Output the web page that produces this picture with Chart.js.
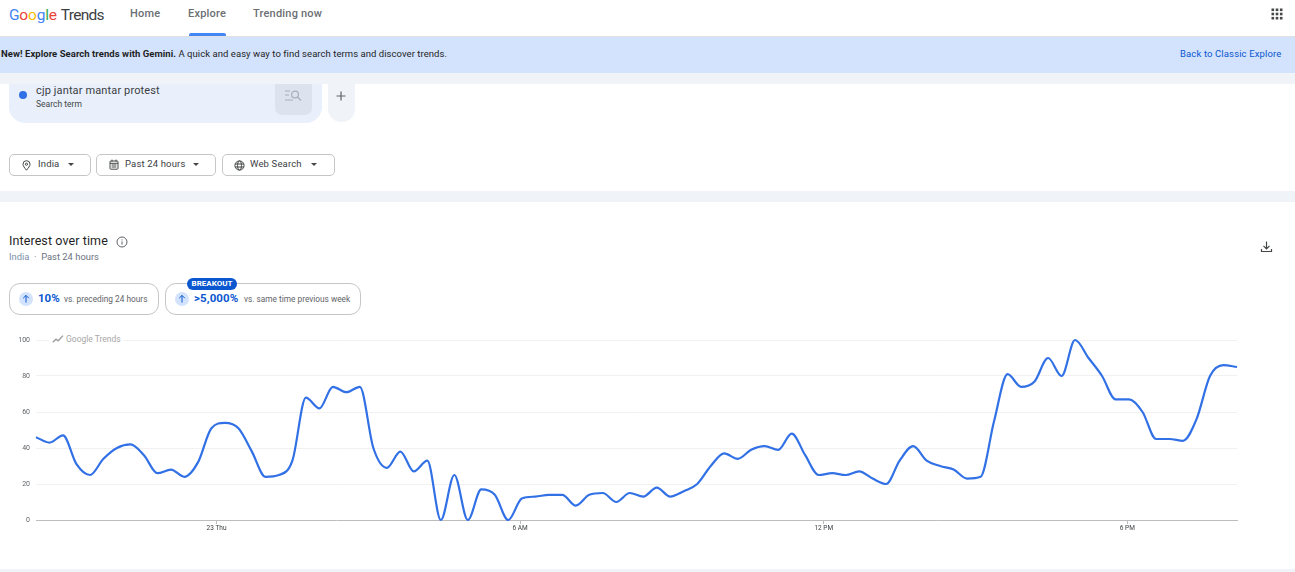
<!DOCTYPE html>
<html>
<head>
<meta charset="utf-8">
<title>Google Trends</title>
<script src="https://cdn.jsdelivr.net/npm/chart.js@4"></script>
<style>
html, body { margin: 0; padding: 0; background: #fff; overflow: hidden; }
body { width: 1295px; height: 572px; position: relative; font-family: Roboto, Arial, sans-serif; color: #1f1f1f; }
.abs { position: absolute; white-space: nowrap; }
.nav { top: 6px; font-size: 11px; line-height: 15px; color: #6b6f73; font-weight: 500; letter-spacing: .2px; }
.pill { top: 154px; height: 20px; border: 1px solid #c4c7c5; border-radius: 5px; box-sizing: content-box; background: #fff; }
.pilltext { top: 157px; font-size: 9.5px; line-height: 14px; color: #3c4043; letter-spacing: .15px; }
.caret { width: 0; height: 0; border-left: 3.5px solid transparent; border-right: 3.5px solid transparent; border-top: 3.5px solid #444746; }
.cmp { top: 283px; height: 30px; border: 1px solid #c4c7c5; border-radius: 11px; background: #fff; }
.arrow { width: 14px; height: 14px; top: 292px; border-radius: 50%; background: #d3e3fd; }
.big { top: 291px; font-size: 11.5px; line-height: 15px; font-weight: 700; color: #0b57d0; }
.vs { top: 293px; font-size: 8.3px; line-height: 12px; color: #5f6368; }
#chartWrap { position: absolute; left: 0; top: 320px; width: 1295px; height: 232px; }
</style>
</head>
<body>
<!-- top nav -->
<div class="abs" style="left:9px;top:5px;font-size:15.5px;line-height:20px;letter-spacing:-.2px"><span style="color:#4285f4">G</span><span style="color:#ea4335">o</span><span style="color:#fbbc04">o</span><span style="color:#4285f4">g</span><span style="color:#34a853">l</span><span style="color:#ea4335">e</span><span style="color:#3c4043;margin-left:4px;letter-spacing:-.7px">Trends</span></div>
<div class="abs nav" style="left:130px">Home</div>
<div class="abs nav" style="left:188px">Explore</div>
<div class="abs nav" style="left:253px">Trending now</div>
<div class="abs" style="left:189px;top:33px;width:37px;height:3px;background:#4285f4;border-radius:2px 2px 0 0"></div>
<svg class="abs" style="left:1271px;top:8px" width="12" height="12" viewBox="0 0 12 12" fill="#444746">
  <rect x="0.5" y="0.5" width="2.6" height="2.6"/><rect x="4.7" y="0.5" width="2.6" height="2.6"/><rect x="8.9" y="0.5" width="2.6" height="2.6"/>
  <rect x="0.5" y="4.7" width="2.6" height="2.6"/><rect x="4.7" y="4.7" width="2.6" height="2.6"/><rect x="8.9" y="4.7" width="2.6" height="2.6"/>
  <rect x="0.5" y="8.9" width="2.6" height="2.6"/><rect x="4.7" y="8.9" width="2.6" height="2.6"/><rect x="8.9" y="8.9" width="2.6" height="2.6"/>
</svg>

<!-- banner -->
<div class="abs" style="left:0;top:36px;width:1295px;height:1px;background:#e0e0e0"></div>
<div class="abs" style="left:0;top:37px;width:1295px;height:36px;background:#d3e3fd"></div>
<div class="abs" style="left:0;top:73px;width:1295px;height:11px;background:#f0f4f9"></div>
<div class="abs" style="left:1px;top:47px;font-size:9.5px;line-height:14px;color:#1f1f1f;letter-spacing:.05px"><b>New! Explore Search trends with Gemini.</b> A quick and easy way to find search terms and discover trends.</div>
<div class="abs" style="left:1180px;top:47px;font-size:9.5px;line-height:14px;color:#0b57d0;letter-spacing:.13px">Back to Classic Explore</div>

<!-- search term -->
<div class="abs" style="left:9px;top:84px;width:313px;height:39px;background:#e9f0fc;border-radius:0 0 16px 16px"></div>
<div class="abs" style="left:19px;top:91px;width:8px;height:8px;border-radius:50%;background:#3271e5"></div>
<div class="abs" style="left:36px;top:83px;font-size:11px;line-height:15px;color:#3c4043;letter-spacing:.13px">cjp jantar mantar protest</div>
<div class="abs" style="left:36px;top:98px;font-size:8.5px;line-height:12px;color:#444746">Search term</div>
<div class="abs" style="left:275px;top:84px;width:37px;height:31px;background:#dde3ee;border-radius:0 0 7px 7px"></div>
<svg class="abs" style="left:284px;top:89px" width="19" height="14" viewBox="0 0 19 14" fill="none" stroke="#aab0ba" stroke-width="1.2">
  <path d="M1 2h5M1 6h4M1 11h8"/><circle cx="11" cy="5.5" r="3.4"/><path d="M13.5 8l3.5 3.5"/>
</svg>
<div class="abs" style="left:328px;top:84px;width:27px;height:38px;background:#f0f4f9;border-radius:0 0 13px 13px"></div>
<svg class="abs" style="left:336px;top:91px" width="10" height="10" viewBox="0 0 10 10" fill="none" stroke="#5f6368" stroke-width="1.2"><path d="M5 .5v9M.5 5h9"/></svg>

<!-- filters -->
<div class="abs pill" style="left:9px;width:80px"></div>
<svg class="abs" style="left:22px;top:160px" width="9" height="11" viewBox="0 0 9 11" fill="none" stroke="#444746" stroke-width="1"><path d="M4.5 10.2C2.5 7.6 1 6.2 1 4.2a3.5 3.5 0 0 1 7 0c0 2-1.5 3.4-3.5 6z"/><circle cx="4.5" cy="4.2" r="1.1"/></svg>
<div class="abs pilltext" style="left:38px">India</div>
<div class="abs caret" style="left:68px;top:163px"></div>
<div class="abs pill" style="left:96px;width:118px"></div>
<svg class="abs" style="left:109px;top:159px" width="10" height="11" viewBox="0 0 10 11" fill="none" stroke="#444746" stroke-width="1"><rect x="1" y="2" width="8" height="8.2" rx=".8"/><path d="M1 4.3h8M3 .6v2M7 .6v2M2.6 6h4.8M2.6 8h4.8"/></svg>
<div class="abs pilltext" style="left:125px">Past 24 hours</div>
<div class="abs caret" style="left:193px;top:163px"></div>
<div class="abs pill" style="left:222px;width:111px"></div>
<svg class="abs" style="left:234px;top:160px" width="11" height="11" viewBox="0 0 11 11" fill="none" stroke="#444746" stroke-width="1"><circle cx="5.5" cy="5.5" r="4.6"/><ellipse cx="5.5" cy="5.5" rx="2" ry="4.6"/><path d="M1 4h9M1 7h9"/></svg>
<div class="abs pilltext" style="left:250px">Web Search</div>
<div class="abs caret" style="left:311px;top:163px"></div>

<div class="abs" style="left:0;top:191px;width:1295px;height:11px;background:#f0f4f9"></div>

<!-- widget header -->
<div class="abs" style="left:9px;top:233px;font-size:12.5px;line-height:16px;color:#1f1f1f;letter-spacing:.1px">Interest over time</div>
<svg class="abs" style="left:116px;top:236px" width="12" height="12" viewBox="0 0 12 12" fill="none" stroke="#5f6368" stroke-width="1"><circle cx="6" cy="6" r="5"/><path d="M6 5.4v3.2M6 3.4v1"/></svg>
<div class="abs" style="left:9px;top:250px;font-size:9.4px;line-height:14px;color:#6b7280"><span style="color:#7d8fa8">India</span> &nbsp;·&nbsp; Past 24 hours</div>
<svg class="abs" style="left:1260px;top:240px" width="13" height="13" viewBox="0 0 13 13" fill="none" stroke="#444746" stroke-width="1.2"><path d="M6.5 1.5v7M3.5 5.8l3 3 3-3M1.5 9v2.5h10V9"/></svg>

<!-- comparison pills -->
<div class="abs cmp" style="left:9px;width:148px"></div>
<div class="abs arrow" style="left:19px"></div>
<svg class="abs" style="left:19px;top:292px" width="14" height="14" viewBox="0 0 14 14" fill="none" stroke="#0b57d0" stroke-width="1"><path d="M7 10.5v-7M4.2 6.2L7 3.4l2.8 2.8"/></svg>
<div class="abs big" style="left:38px">10%</div>
<div class="abs vs" style="left:64px">vs. preceding 24 hours</div>
<div class="abs cmp" style="left:165px;width:194px"></div>
<div class="abs arrow" style="left:175px"></div>
<svg class="abs" style="left:175px;top:292px" width="14" height="14" viewBox="0 0 14 14" fill="none" stroke="#0b57d0" stroke-width="1"><path d="M7 10.5v-7M4.2 6.2L7 3.4l2.8 2.8"/></svg>
<div class="abs big" style="left:194px;letter-spacing:.1px">&gt;5,000%</div>
<div class="abs vs" style="left:244px">vs. same time previous week</div>
<div class="abs" style="left:187px;top:278px;width:50px;height:12px;background:#0b57d0;border-radius:6px;color:#fff;font-size:8px;font-weight:700;line-height:12px;text-align:center">BREAKOUT</div>

<div id="chartWrap"><canvas id="interest-over-time"></canvas></div>

<!-- watermark sits over the 100 gridline -->
<div class="abs" style="left:49px;top:333px;width:75px;height:13px;background:#fff"></div>
<svg class="abs" style="left:52px;top:334px" width="12" height="10" viewBox="0 0 12 10" fill="none" stroke="#9e9e9e" stroke-width="1.4"><path d="M.8 8.2l3.2-3 2.2 1.6L11 1.6"/></svg>
<div class="abs" style="left:66px;top:333px;font-size:8.5px;line-height:13px;color:#a8a8a8">Google Trends</div>

<!-- bottom strip -->
<div class="abs" style="left:0;top:569px;width:1295px;height:3px;background:#f0f4f9"></div>

<script>
// Interest values, one every 16 minutes
const interestValues = [
    46, 43, 47, 31, 25, 34, 40, 42, 36, 26,
    28, 24, 32, 51, 54, 51, 38, 24, 25, 33,
    68, 62, 74, 71, 74, 40, 29, 38, 27, 33,
    0, 25, 0, 17, 14, 0, 12, 13, 14, 14,
    8, 14, 15, 10, 15, 13, 18, 13, 16, 20,
    30, 37, 34, 39, 41, 39, 48, 36, 25, 26,
    25, 27, 23, 20, 33, 41, 33, 30, 28, 23,
    24, 55, 81, 74, 77, 90, 80, 100, 90, 80,
    67, 67, 60, 45, 45, 44, 56, 80, 86, 85
];

// Time axis, in minutes from midnight on the 22nd
const startMinute = 1226;
const stepMinutes = 16;
const tickMinutes = [1440, 1800, 2160, 2520];
const tickLabels = ['23 Thu', '6 AM', '12 PM', '6 PM'];
const yTicks = [0, 20, 40, 60, 80, 100];

const points = interestValues.map((value, i) => ({ x: startMinute + i * stepMinutes, y: value }));

Chart.defaults.font.family = "Roboto, Arial, sans-serif";
Chart.defaults.animation = false;

const ctx = document.getElementById('interest-over-time').getContext('2d');
new Chart(ctx, {
    type: 'line',
    data: {
        datasets: [{
            label: 'cjp jantar mantar protest',
            data: points,
            borderColor: '#3271e5',
            borderWidth: 2.2,
            pointRadius: 0,
            cubicInterpolationMode: 'monotone',
            fill: false,
            clip: false
        }]
    },
    options: {
        responsive: true,
        maintainAspectRatio: false,
        layout: { padding: { top: 20, right: 58, left: 0, bottom: 0 } },
        plugins: { legend: { display: false }, tooltip: { enabled: false } },
        scales: {
            x: {
                type: 'linear',
                min: startMinute,
                max: startMinute + (interestValues.length - 1) * stepMinutes,
                afterBuildTicks: axis => { axis.ticks = tickMinutes.map(v => ({ value: v })); },
                afterFit: axis => { axis.height = 32; },
                grid: { drawOnChartArea: false, drawTicks: true, tickLength: 4, color: '#bdbdbd' },
                border: { color: '#bdbdbd', width: 1 },
                ticks: {
                    autoSkip: false,
                    maxRotation: 0,
                    padding: 0,
                    color: '#3c4043',
                    font: { size: 6.5 },
                    callback: value => tickLabels[tickMinutes.indexOf(value)]
                }
            },
            y: {
                min: 0,
                max: 100,
                afterBuildTicks: axis => { axis.ticks = yTicks.map(v => ({ value: v })); },
                afterFit: axis => { axis.width = 36; },
                grid: { drawTicks: false, color: '#f1f1f1', lineWidth: 1 },
                border: { display: false },
                ticks: { padding: 6, color: '#5f6368', font: { size: 7 } }
            }
        }
    }
});
</script>
</body>
</html>
